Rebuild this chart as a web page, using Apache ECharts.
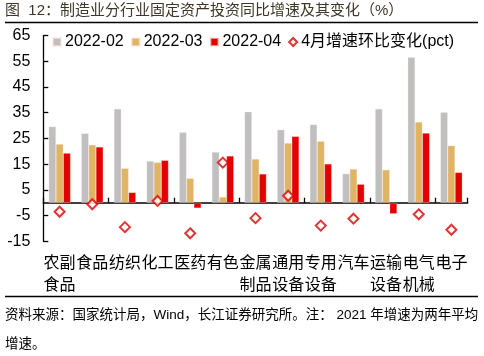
<!DOCTYPE html>
<html><head><meta charset="utf-8">
<script src="https://cdn.jsdelivr.net/npm/echarts@6/dist/echarts.min.js"></script>
<style>html,body{margin:0;padding:0;background:#fff}#c{width:484px;height:356px}</style>
</head><body><div id="c"></div>
<script>
const categories = ['农副食品','食品','纺织','化工','医药','有色','金属制品','通用设备','专用设备','汽车','运输设备','电气机械','电子'];
const s202202 = [29.6, 27.0, 36.5, 16.2, 27.4, 19.7, 35.4, 28.4, 30.4, 11.3, 36.5, 56.6, 35.2];
const s202203 = [22.8, 22.5, 13.4, 15.7, 9.5, 2.2, 17.0, 23.2, 23.9, 13.1, 12.8, 31.4, 22.2];
const s202204 = [19.3, 21.7, 4.0, 16.5, -2.1, 18.2, 11.2, 25.8, 15.1, 7.2, -4.3, 27.1, 11.8];
const chgApr = [-3.5, -0.6, -9.5, 0.7, -11.9, 15.6, -6.0, 2.7, -8.9, -6.2, null, -4.5, -10.5];
const seriesNames = ['2022-02','2022-03','2022-04','4月增速环比变化(pct)'];
const yTicks = {min: -15, max: 65, interval: 10};

const FONT = 'Arial, "Liberation Sans", "Noto Sans CJK SC", sans-serif';
const chart = echarts.init(document.getElementById('c'), null, {renderer: 'canvas'});
const barStyle = (c) => ({color: c, borderColor: 'rgba(255,230,220,0.6)', borderWidth: 0.5});
chart.setOption({
  animation: false,
  textStyle: {fontFamily: FONT},
  graphic: [
    {type: 'text', left: 5, top: 3, style: {text: '图  12：制造业分行业固定资产投资同比增速及其变化（%）', font: '15px ' + FONT, fill: '#3e3626'}},
    {type: 'line', shape: {x1: 5, y1: 22.5, x2: 478, y2: 22.5}, style: {stroke: '#000', lineWidth: 1.5}},
    {type: 'line', shape: {x1: 5, y1: 296.5, x2: 478, y2: 296.5}, style: {stroke: '#000', lineWidth: 1.5}},
    {type: 'text', left: 5, top: 309, style: {text: '资料来源：国家统计局，Wind，长江证券研究所。注： 2021 年增速为两年平均', font: '13.5px ' + FONT, fill: '#000'}},
    {type: 'text', left: 5, top: 338, style: {text: '增速。', font: '13.5px ' + FONT, fill: '#000'}}
  ],
  legend: {
    left: 47, top: 29, itemWidth: 8, itemHeight: 8, itemGap: 7,
    textStyle: {fontSize: 16, color: '#000', fontFamily: FONT, padding: [0, 0, 0, -1]},
    data: [
      {name: seriesNames[0], icon: 'rect'},
      {name: seriesNames[1], icon: 'rect'},
      {name: seriesNames[2], icon: 'rect'},
      {name: seriesNames[3], icon: 'diamond', itemStyle: {color: '#fff', borderColor: '#E00000', borderWidth: 2}}
    ]
  },
  grid: {left: 43.3, right: 16.3, top: 35.6, bottom: 114.7, containLabel: false},
  xAxis: [
    {type: 'category', data: categories, position: 'bottom',
     axisLine: {onZero: true, lineStyle: {color: '#000', width: 1.5}},
     axisTick: {show: true, inside: true, length: 5, lineStyle: {color: '#000', width: 1.3}},
     axisLabel: {show: false}},
    {type: 'category', data: categories, position: 'bottom',
     axisLine: {show: false, onZero: false}, axisTick: {show: false},
     axisLabel: {show: true, interval: 0, margin: 11, fontSize: 16, lineHeight: 22, color: '#000', fontFamily: FONT,
       formatter: v => v.length > 2 ? v.slice(0, 2) + '\n' + v.slice(2) : v,
       align: 'center', verticalAlign: 'top'}}
  ],
  yAxis: {type: 'value', min: yTicks.min, max: yTicks.max, interval: yTicks.interval,
    axisLine: {show: true, lineStyle: {color: '#000', width: 1.3}},
    axisTick: {show: true, inside: true, length: 5, lineStyle: {color: '#000', width: 1.3}},
    axisLabel: {fontSize: 16, color: '#000', margin: 13, fontFamily: FONT},
    splitLine: {show: false}},
  series: [
    {name: seriesNames[0], type: 'bar', data: s202202, barWidth: 7.3, barGap: '0%', itemStyle: barStyle('#BFBFBF')},
    {name: seriesNames[1], type: 'bar', data: s202203, barWidth: 7.3, barGap: '0%', itemStyle: barStyle('#DFB465')},
    {name: seriesNames[2], type: 'bar', data: s202204, barWidth: 7.3, barGap: '0%', itemStyle: barStyle('#E20000')},
    {name: seriesNames[3], type: 'scatter', data: chgApr, symbol: 'diamond', symbolSize: 10, z: 5,
     itemStyle: {color: '#fff', borderColor: '#E00000', borderWidth: 2}}
  ]
});
</script></body></html>
